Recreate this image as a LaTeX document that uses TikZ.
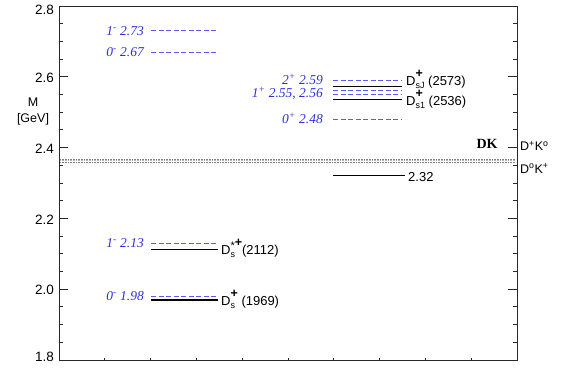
\documentclass[tikz,border=0pt]{standalone}
\usepackage{fontspec}
\setmainfont{Liberation Serif}
\setsansfont{Liberation Sans}
\definecolor{lblblue}{RGB}{45,45,225}
\definecolor{dshblue}{RGB}{90,90,250}
\definecolor{axgray}{RGB}{40,40,40}
% D with stacked superscript / subscript
\newcommand\dstate[2]{D\ooalign{\raisebox{8pt}{\fontsize{12.5}{12.5}\selectfont\bfseries #1}\cr\raisebox{-3pt}{\fontsize{9}{9}\selectfont #2}\cr}}
\newcommand\starplus{{\fontsize{11}{11}\selectfont\mdseries\raisebox{-3pt}{*}}+}
\tikzset{
  frame/.style={draw=axgray, line width=0.9pt},
  tck/.style={draw=axgray, line width=0.8pt},
  meas/.style={draw=black, line width=1.4pt},
  pred/.style={draw=dshblue, line width=0.9pt, dash pattern=on 5pt off 2.5pt},
  thr/.style={draw=gray, line width=0.9pt, dash pattern=on 0.8pt off 0.8pt},
  axlab/.style={anchor=east, inner sep=0pt, font=\sffamily\fontsize{13.5}{15}\selectfont},
  bluelab/.style={anchor=base east, inner sep=0pt, yshift=-4.5pt, text=lblblue,
                  font=\itshape\fontsize{13.5}{15}\selectfont},
  statelab/.style={anchor=base west, inner sep=0pt, font=\sffamily\fontsize{13}{15}\selectfont},
}
\begin{document}
\begin{tikzpicture}[x=1pt,y=354pt]
\useasboundingbox (0,1.774576) rectangle (566,2.816949);
% frame
\draw[frame] (59,1.8) rectangle (517,2.8);
% ticks
\foreach \m in {1.85,1.9,1.95,2.05,2.1,2.15,2.25,2.3,2.35,2.45,2.5,2.55,2.65,2.7,2.75}{
  \draw[tck] (59,\m) -- (63,\m);
  \draw[tck] (517,\m) -- (513,\m);
}
\foreach \m in {2.0,2.2,2.4,2.6}{
  \draw[tck] (59,\m) -- (68,\m);
  \draw[tck] (517,\m) -- (508,\m);
}
\foreach \i in {1,...,9}{
  \draw[tck] ({59+\i*45.8},1.8) -- ({59+\i*45.8},1.8056);
}
% axis labels
\node[axlab] (l28) at (54,2.7887) {2.8};
\node[axlab] (l26) at (54,2.597) {2.6};
\node[axlab] (l24) at (54,2.397) {2.4};
\node[axlab] (l22) at (54,2.197) {2.2};
\node[axlab] (l20) at (54,1.997) {2.0};
\node[axlab] (l18) at (54,1.8085) {1.8};
\node[font=\sffamily\fontsize{12.5}{14}\selectfont, inner sep=0pt] (mlab) at (33,2.5288) {M};
\node[font=\sffamily\fontsize{12.5}{14}\selectfont, inner sep=0pt] (gevlab) at (33,2.4808) {[GeV]};
% DK threshold band
\draw[thr] (60,2.3672) -- (516,2.3672);
\draw[thr, draw=gray!60] (60,2.3628) -- (516,2.3628);
\draw[thr] (60,2.3585) -- (516,2.3585);
\node[font=\bfseries\fontsize{14}{15}\selectfont, inner sep=0pt] (dk) at (487,2.4102) {DK};
\node[statelab, font=\sffamily\fontsize{12.5}{14}\selectfont] (dpk0) at (520,2.3904) {D\textsuperscript{+}K\textsuperscript{o}};
\node[statelab, font=\sffamily\fontsize{12.5}{14}\selectfont] (d0kp) at (520,2.3282) {D\textsuperscript{o}K\textsuperscript{+}};
% left column (negative parity)
\draw[pred] (151,2.73) -- (218,2.73);
\draw[pred] (151,2.67) -- (218,2.67);
\draw[pred] (151,2.13) -- (218,2.13);
\draw[meas] (151,2.112) -- (218,2.112);
\draw[pred] (151,1.98) -- (218,1.98);
\draw[meas] (151,1.969) -- (218,1.969);
\node[bluelab] (p273) at (144,2.73) {1\textsuperscript{-} 2.73};
\node[bluelab] (p267) at (144,2.67) {0\textsuperscript{-} 2.67};
\node[bluelab] (p213) at (144,2.13) {1\textsuperscript{-} 2.13};
\node[bluelab] (p198) at (144,1.98) {0\textsuperscript{-} 1.98};
\node[statelab] (dsstar) at (221,2.098) {\dstate{\starplus}{s}(2112)};
\node[statelab] (ds) at (221,1.954) {\dstate{+}{s} (1969)};
% right column (positive parity)
\draw[pred] (333,2.59) -- (402,2.59);
\draw[meas] (333,2.573) -- (402,2.573);
\draw[pred] (333,2.56) -- (402,2.56);
\draw[pred] (333,2.55) -- (402,2.55);
\draw[meas] (333,2.536) -- (402,2.536);
\draw[pred] (333,2.48) -- (402,2.48);
\draw[draw=black, line width=0.9pt] (333,2.32) -- (405,2.32);
\node[bluelab] (p259) at (323,2.59) {2\textsuperscript{+} 2.59};
\node[bluelab] (p255) at (323,2.553) {1\textsuperscript{+} 2.55, 2.56};
\node[bluelab] (p248) at (323,2.48) {0\textsuperscript{+} 2.48};
\node[statelab] (dsj) at (406,2.574) {\dstate{+}{sJ} (2573)};
\node[statelab] (ds1) at (406,2.519) {\dstate{+}{s1} (2536)};
\node[anchor=west, inner sep=0pt, font=\sffamily\fontsize{13}{15}\selectfont] (l232) at (408,2.317) {2.32};
\end{tikzpicture}
\end{document}
